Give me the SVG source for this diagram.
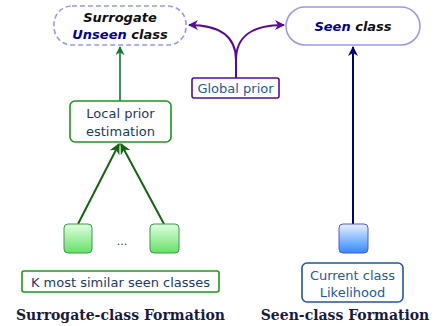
<svg xmlns="http://www.w3.org/2000/svg" width="433" height="326" viewBox="0 0 433 326">
<style>
.lbl{font-family:"DejaVu Sans",Verdana,sans-serif;font-size:13px;fill:#1f5a9a;text-anchor:middle}
.dark{fill:#1a3a6a}
.bi{font-family:"DejaVu Sans",Verdana,sans-serif;font-size:13px;font-weight:bold;font-style:italic;text-anchor:middle;fill:#111}
.navy{fill:#000099}
.title{font-family:"DejaVu Serif",Georgia,serif;font-size:14px;font-weight:bold;fill:#1a1a40;text-anchor:middle}
.gsq{fill:url(#gg);stroke:#3a9a4a;stroke-width:1}
</style>
<defs>
<linearGradient id="gg" x1="0" y1="0" x2="0" y2="1"><stop offset="0" stop-color="#e0ffe0"/><stop offset="1" stop-color="#66e066"/></linearGradient>
<linearGradient id="bg" x1="0" y1="0" x2="0" y2="1"><stop offset="0" stop-color="#e8f2ff"/><stop offset="1" stop-color="#3388ff"/></linearGradient>
<marker id="ag" viewBox="0 0 10 10" refX="9" refY="5" markerWidth="9" markerHeight="9" markerUnits="userSpaceOnUse" orient="auto"><path d="M0,0 L10,5 L0,10 L3,5 Z" fill="#117733"/></marker>
<marker id="ag2" viewBox="0 0 10 10" refX="9" refY="5" markerWidth="11" markerHeight="11" markerUnits="userSpaceOnUse" orient="auto"><path d="M0,0 L10,5 L0,10 L3,5 Z" fill="#116611"/></marker>
<marker id="ap" viewBox="0 0 10 10" refX="9" refY="5" markerWidth="10" markerHeight="10" markerUnits="userSpaceOnUse" orient="auto"><path d="M0,0 L10,5 L0,10 L3,5 Z" fill="#5a0a9a"/></marker>
<marker id="an" viewBox="0 0 10 10" refX="9" refY="5" markerWidth="10" markerHeight="10" markerUnits="userSpaceOnUse" orient="auto"><path d="M0,0 L10,5 L0,10 L3,5 Z" fill="#000077"/></marker>
</defs>
<g id="connectors" fill="none">
<path d="M120,101 L120,47" stroke="#117733" stroke-width="1.6" marker-end="url(#ag)"/>
<path d="M78,224 L119,144" stroke="#116611" stroke-width="2" marker-end="url(#ag2)"/>
<path d="M164,224 L121,144" stroke="#116611" stroke-width="2" marker-end="url(#ag2)"/>
<path d="M236,78 L236,60 C236,36 220,25 189,25" stroke="#5a0a9a" stroke-width="2" marker-end="url(#ap)"/>
<path d="M236,78 L236,60 C236,36 252,25 284,25" stroke="#5a0a9a" stroke-width="2" marker-end="url(#ap)"/>
<path d="M353,224 L353,47" stroke="#000077" stroke-width="2" marker-end="url(#an)"/>
</g>
<g id="surrogate">
<rect x="54" y="6" width="132" height="39" rx="18" fill="#fff" stroke="#9999ee" stroke-width="1.6" stroke-dasharray="5,3"/>
<text class="bi" x="120" y="22">Surrogate</text>
<text class="bi" x="120" y="39"><tspan class="navy">Unseen</tspan> class</text>
</g>
<g id="seen">
<rect x="286" y="7" width="134" height="38" rx="19" fill="#fff" stroke="#9999ee" stroke-width="1.6"/>
<text class="bi" x="353" y="31"><tspan class="navy">Seen</tspan> class</text>
</g>
<g id="global">
<rect x="192" y="78" width="87" height="20" rx="2" fill="#fff" stroke="#5a0a9a" stroke-width="1.6"/>
<text class="lbl" x="235.5" y="93">Global prior</text>
</g>
<g id="local">
<rect x="70" y="101" width="101" height="41" rx="5" fill="#fff" stroke="#1a9a1a" stroke-width="1.6"/>
<text class="lbl dark" x="120.5" y="118">Local prior</text>
<text class="lbl dark" x="120.5" y="136">estimation</text>
</g>
<g id="sq1"><rect class="gsq" x="64" y="224" width="28" height="29" rx="4"/></g>
<g id="sq2"><rect class="gsq" x="150" y="224" width="29" height="29" rx="4"/></g>
<g id="dots"><text x="122" y="245" font-family="DejaVu Sans,sans-serif" font-size="11" fill="#333" text-anchor="middle">...</text></g>
<g id="kbox">
<rect x="22" y="271" width="197" height="21" rx="2" fill="#fff" stroke="#1a9a1a" stroke-width="1.6"/>
<text class="lbl dark" x="120.5" y="286.5">K most similar seen classes</text>
</g>
<g id="bsq"><rect x="339" y="224" width="29" height="29" rx="4" fill="url(#bg)" stroke="#5555cc" stroke-width="1"/></g>
<g id="cur">
<rect x="302" y="263" width="101" height="39" rx="5" fill="#fff" stroke="#1f5a9a" stroke-width="1.6"/>
<text class="lbl" x="352.5" y="280">Current class</text>
<text class="lbl" x="352.5" y="297">Likelihood</text>
</g>
<g id="titles">
<text class="title" x="120.5" y="320">Surrogate-class Formation</text>
<text class="title" x="345" y="320">Seen-class Formation</text>
</g>
</svg>
